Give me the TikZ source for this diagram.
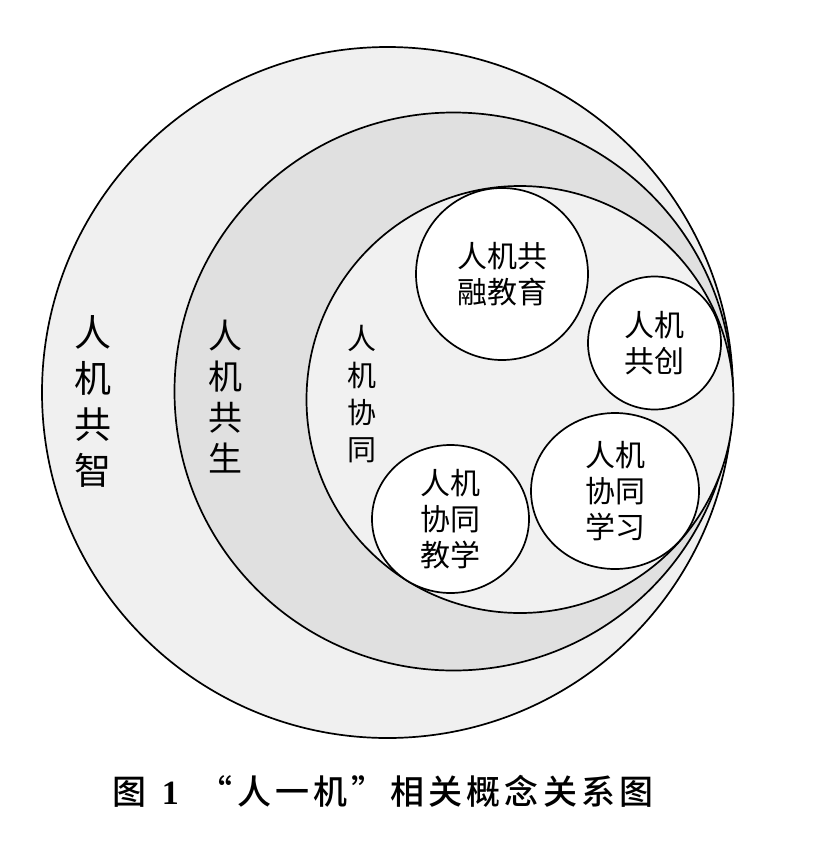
\documentclass[tikz,border=0pt]{standalone}
\usepackage{fontspec}
\newfontfamily\hei{Noto Sans CJK SC}
\newfontfamily\capfont{Noto Sans CJK SC Medium}[LetterSpace=12.5]
\newfontfamily\numfont{Liberation Serif}
\usetikzlibrary{shapes.geometric}
\definecolor{ringA}{gray}{0.94}
\definecolor{ringB}{gray}{0.88}
\definecolor{ringC}{gray}{0.945}
\begin{document}
\begin{tikzpicture}[x=1pt,y=-1pt,line width=1.7pt,
  smallc/.style={draw=black,fill=white,circle,inner sep=0pt,align=center,
    font=\hei\fontsize{30}{36}\selectfont},
  smalle/.style={draw=black,fill=white,ellipse,inner sep=0pt,align=center,
    font=\hei\fontsize{30}{36}\selectfont},
  vlabel/.style={align=center,inner sep=0pt}]
\useasboundingbox (0,0) rectangle (823,844);
% concentric-ish rings
\draw[fill=ringA] (387.5,392.5) circle (345.5);
\draw[fill=ringB] (453.5,391.5) circle (279);
\draw[fill=ringC] (520,399.5) circle (213.5);
% vertical labels
\node[vlabel,font=\hei\fontsize{37}{46}\selectfont] (zhi) at (93,401.5) {人\\机\\共\\智};
\node[vlabel,font=\hei\fontsize{34}{41}\selectfont] (sheng) at (225,396.5) {人\\机\\共\\生};
\node[vlabel,font=\hei\fontsize{29}{37}\selectfont] (xt) at (362,394) {人\\机\\协\\同};
% inner concepts
\node[smallc,minimum size=172] (rj) at (502,274) {人机共\\融教育};
\node[smallc,minimum size=133] (gc) at (654.5,343) {人机\\共创};
\node[smalle,minimum width=168,minimum height=156] (xx) at (615,491) {人机\\协同\\学习};
\node[smalle,minimum width=157,minimum height=148] (jx) at (450.5,519) {人机\\协同\\教学};
% caption
\node[anchor=west,inner sep=0pt,font=\capfont\fontsize{34}{40}\selectfont] (cap) at (112,791)
  {图\hspace{15pt}{\numfont\bfseries 1}\hspace{20pt}“人一机”相关概念关系图};
\end{tikzpicture}
\end{document}
